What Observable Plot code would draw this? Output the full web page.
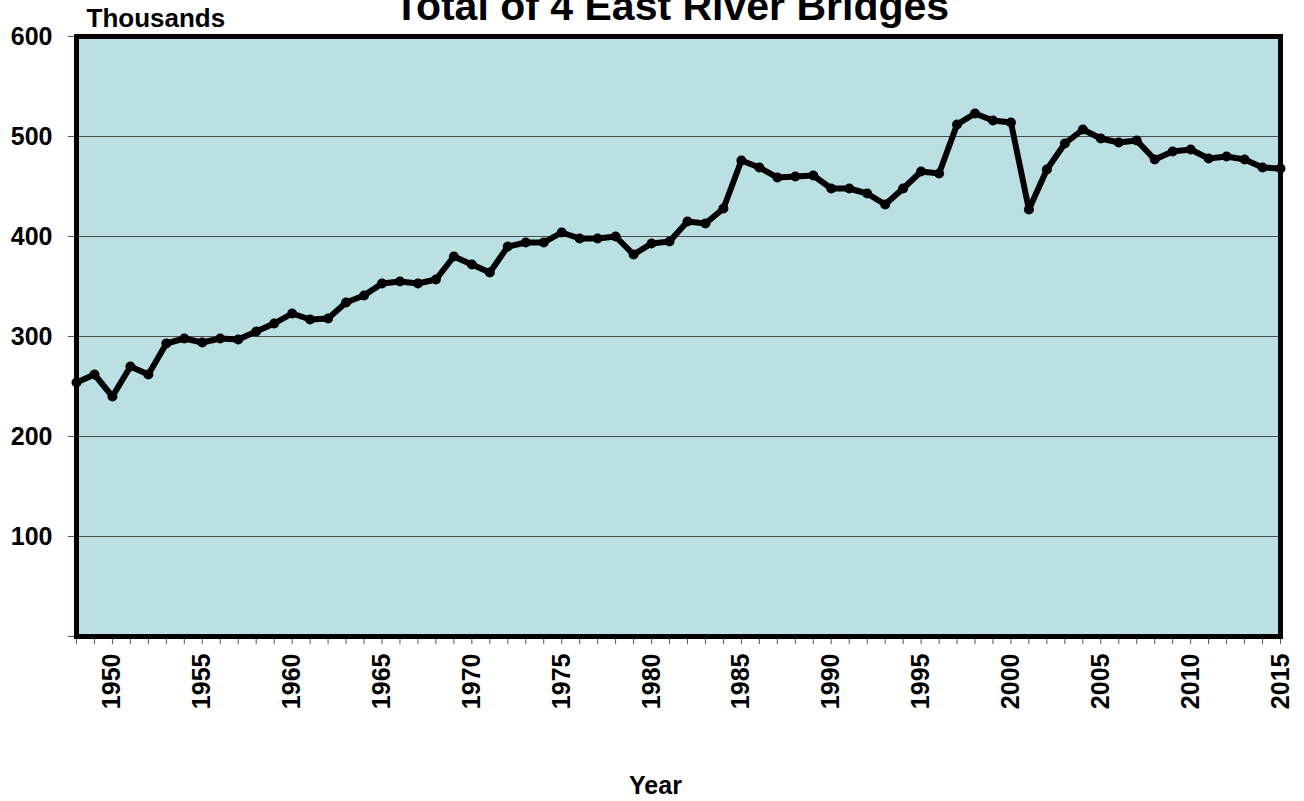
<!DOCTYPE html>
<html>
<head>
<meta charset="utf-8">
<script src="https://cdn.jsdelivr.net/npm/d3@7"></script>
<script src="https://cdn.jsdelivr.net/npm/@observablehq/plot@0.6"></script>
<style>
  html, body { margin: 0; padding: 0; background: #fff; }
  svg { font-family: "Liberation Sans", Arial, sans-serif; }
</style>
</head>
<body>
<div id="chart"></div>
<script>
const years = d3.range(1948, 2016);
const values = [
  254, 262, 240, 270, 262, 293, 298, 294, 298, 297,
  305, 313, 323, 317, 318, 334, 341, 353, 355, 353,
  357, 380, 372, 364, 390, 394, 394, 404, 398, 398,
  400, 382, 393, 395, 415, 413, 428, 476, 469, 459,
  460, 461, 448, 448, 443, 432, 448, 465, 463, 512,
  523, 516, 514, 427, 467, 493, 507, 498, 494, 496,
  477, 485, 487, 478, 480, 477, 469, 468
];
const yTicks = [0, 100, 200, 300, 400, 500, 600];
const gridValues = [100, 200, 300, 400, 500];
const titleText = "Total of 4 East River Bridges";
const yUnitLabel = "Thousands";
const xLabel = "Year";

const data = years.map((year, i) => ({year, value: values[i]}));

const chart = Plot.plot({
  width: 1304,
  height: 801,
  marginTop: 36,
  marginBottom: 165,
  marginLeft: 76,
  marginRight: 24,
  x: {domain: [1948, 2015], label: null},
  y: {domain: [0, 600], label: null},
  marks: [
    Plot.frame({fill: "#bbe0e3"}),
    Plot.ruleY(gridValues, {stroke: "#4d4d4d", strokeWidth: 1.2}),
    Plot.axisY({
      ticks: yTicks,
      tickFormat: d => d === 0 ? "" : String(d),
      tickSize: 8,
      tickPadding: 16,
      fontSize: 25,
      fontWeight: "bold",
      stroke: "#555",
      color: "#000",
      label: null
    }),
    Plot.axisX({
      ticks: years,
      tickFormat: d => d % 5 === 0 ? String(d) : "",
      tickSize: 8,
      tickPadding: 9,
      tickRotate: -90,
      fontSize: 25,
      fontWeight: "bold",
      stroke: "#555",
      label: null
    }),
    Plot.line(data, {x: "year", y: "value", stroke: "#000", strokeWidth: 6, strokeLinejoin: "round"}),
    Plot.dot(data, {x: "year", y: "value", r: 5, fill: "#000", stroke: "none"}),
    Plot.frame({stroke: "#000", strokeWidth: 5}),
    Plot.text([titleText], {frameAnchor: "top", dx: -7, dy: -17, lineAnchor: "bottom", fontSize: 41, fontWeight: "bold", fill: "#000"}),
    Plot.text([yUnitLabel], {frameAnchor: "top-left", dx: 10, dy: -10, lineAnchor: "bottom", textAnchor: "start", fontSize: 26, fontWeight: "bold", fill: "#000"}),
    Plot.text([xLabel], {frameAnchor: "bottom", dx: -23, dy: 157, lineAnchor: "bottom", fontSize: 25, fontWeight: "bold", fill: "#000"})
  ]
});
document.getElementById("chart").appendChild(chart);
</script>
</body>
</html>
